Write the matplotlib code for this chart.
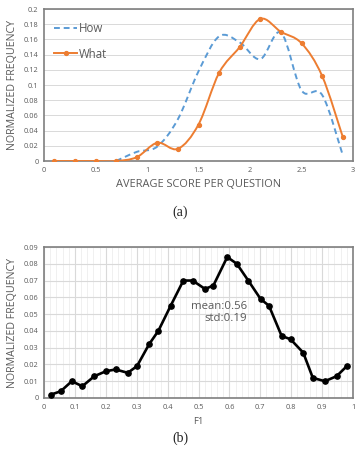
import matplotlib

matplotlib.use("Agg")
import matplotlib.pyplot as plt
import numpy as np
from matplotlib.patches import PathPatch
from matplotlib.path import Path

# (a) average score per question
score_x = [0.1, 0.3, 0.5, 0.7, 0.9, 1.1, 1.3, 1.5, 1.7, 1.9, 2.1, 2.3, 2.5, 2.7, 2.9]
how_freq = [0, 0, 0, 0, 0.012, 0.019, 0.055, 0.118, 0.164, 0.156, 0.134, 0.169, 0.093, 0.087, 0.008]
what_freq = [0, 0, 0, 0, 0.005, 0.024, 0.016, 0.048, 0.116, 0.150, 0.187, 0.170, 0.155, 0.112, 0.032]

# (b) F1 distribution
f1_x = [0.022, 0.054, 0.090, 0.124, 0.163, 0.201, 0.232, 0.271, 0.301, 0.340, 0.370, 0.410,
        0.451, 0.481, 0.521, 0.548, 0.593, 0.624, 0.661, 0.701, 0.728, 0.769, 0.798, 0.839,
        0.870, 0.909, 0.947, 0.980]
f1_freq = [0.002, 0.004, 0.010, 0.007, 0.013, 0.016, 0.017, 0.015, 0.019, 0.032, 0.040, 0.055,
           0.070, 0.070, 0.065, 0.067, 0.084, 0.080, 0.070, 0.059, 0.055, 0.037, 0.035, 0.027,
           0.012, 0.010, 0.013, 0.019]

ORANGE = "#ED7D31"
BLUE = "#5B9BD5"
GRAY = "#595959"

plt.rcParams["font.family"] = ["Open Sans", "DejaVu Sans"]


def smooth_path(x, y):
    # Excel-style smoothed line: Catmull-Rom segments as cubic Bezier
    pts = np.column_stack([np.asarray(x, float), np.asarray(y, float)])
    verts = [pts[0]]
    codes = [Path.MOVETO]
    n = len(pts)
    for i in range(n - 1):
        p0 = pts[max(i - 1, 0)]
        p1 = pts[i]
        p2 = pts[i + 1]
        p3 = pts[min(i + 2, n - 1)]
        verts += [p1 + (p2 - p0) / 6.0, p2 - (p3 - p1) / 6.0, p2]
        codes += [Path.CURVE4] * 3
    return Path(verts, codes)


def style_axes(ax):
    for spine in ax.spines.values():
        spine.set_color("#7f7f7f")
        spine.set_linewidth(1.2)
    ax.tick_params(length=0, labelsize=5.3, labelcolor=GRAY, pad=4)


fig = plt.figure(figsize=(3.55, 4.55), dpi=100)

# ---- top chart
ax1 = fig.add_axes([44 / 355, 1 - 161 / 455, 309 / 355, 152 / 455])
style_axes(ax1)
ax1.set_xlim(0, 3)
ax1.set_ylim(0, 0.2)
ax1.set_xticks(np.arange(0, 3.01, 0.5))
ax1.set_xticklabels(["0", "0.5", "1", "1.5", "2", "2.5", "3"])
ax1.set_yticks(np.arange(0, 0.201, 0.02))
ax1.set_yticklabels(["0", "0.02", "0.04", "0.06", "0.08", "0.1", "0.12", "0.14", "0.16", "0.18", "0.2"])
ax1.grid(axis="y", color="#d9d9d9", linewidth=0.7)
ax1.set_axisbelow(True)

ax1.add_patch(PathPatch(smooth_path(score_x[3:], how_freq[3:]), fill=False, edgecolor=BLUE,
                        linewidth=1.4, linestyle=(0, (3, 2)), zorder=3))
ax1.add_patch(PathPatch(smooth_path(score_x, what_freq), fill=False, edgecolor=ORANGE,
                        linewidth=1.4, zorder=4))
ax1.plot(score_x, what_freq, "o", color=ORANGE, markersize=2.8, zorder=5)

ax1.plot([], [], color=BLUE, linewidth=1.4, linestyle=(0, (3, 2)), label="How")
ax1.plot([], [], color=ORANGE, linewidth=1.4, marker="o", markersize=2.8, label="What")
ax1.legend(loc="upper left", bbox_to_anchor=(0.0, 0.98), frameon=False, fontsize=8.3,
           handlelength=2.0, handletextpad=0.1, labelspacing=1.05, labelcolor=GRAY)

ax1.set_xlabel("AVERAGE SCORE PER QUESTION", fontsize=7.9, color=GRAY, labelpad=4)
ax1.set_ylabel("NORMALIZED FREQUENCY", fontsize=7.7, color=GRAY, labelpad=4)
fig.text(0.507, 1 - 212 / 455, "(a)", ha="center", va="center", fontsize=10,
         family="Liberation Serif", color="#222222")

# ---- bottom chart
ax2 = fig.add_axes([44 / 355, 1 - 398 / 455, 309 / 355, 151 / 455])
style_axes(ax2)
ax2.set_xlim(0, 1)
ax2.set_ylim(0, 0.09)
ax2.set_xticks(np.arange(0, 1.01, 0.1))
ax2.set_xticklabels(["0", "0.1", "0.2", "0.3", "0.4", "0.5", "0.6", "0.7", "0.8", "0.9", "1"])
ax2.set_yticks(np.arange(0, 0.0901, 0.01))
ax2.set_yticklabels(["0", "0.01", "0.02", "0.03", "0.04", "0.05", "0.06", "0.07", "0.08", "0.09"])
ax2.set_xticks(np.arange(0, 1.0, 0.02), minor=True)
ax2.tick_params(which="minor", length=0)
ax2.grid(which="major", color="#d9d9d9", linewidth=0.8)
ax2.grid(which="minor", axis="x", color="#eeeeee", linewidth=0.6)
ax2.set_axisbelow(True)

ax2.plot(f1_x, f1_freq, "-o", color="black", linewidth=1.9, markersize=3.8, zorder=3)
ax2.text(0.657, 0.051, "mean:0.56\nstd:0.19", ha="right", va="center", fontsize=8.2,
         color=GRAY, linespacing=1.2)

ax2.set_xlabel("F1", fontsize=6.8, color=GRAY, labelpad=5)
ax2.set_ylabel("NORMALIZED FREQUENCY", fontsize=7.7, color=GRAY, labelpad=4)
fig.text(0.507, 1 - 438 / 455, "(b)", ha="center", va="center", fontsize=10,
         family="Liberation Serif", color="#222222")

fig.savefig("out.png", dpi=100)
